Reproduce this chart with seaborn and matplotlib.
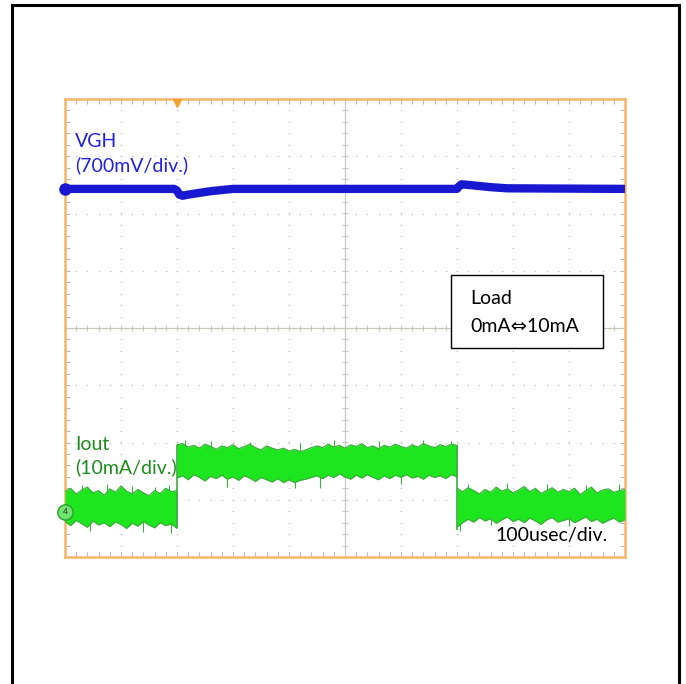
import numpy as np
import pandas as pd
import matplotlib
matplotlib.use("Agg")
import matplotlib.pyplot as plt
import matplotlib.patches as patches
from matplotlib.ticker import MultipleLocator
import seaborn as sns

# =============================================================================
# DATOS (leidos de la captura del osciloscopio)
# eje x en usec (100usec/div), eje y en divisiones (-4..4)
# =============================================================================
vgh_t = [0, 195, 200, 204, 210, 220, 240, 260, 280, 300, 700, 703, 708, 720, 740, 760, 790, 1000]
vgh_v = [2.43, 2.43, 2.40, 2.33, 2.31, 2.33, 2.36, 2.39, 2.41, 2.43, 2.43, 2.47, 2.51, 2.50, 2.48, 2.46, 2.44, 2.43]

# Iout: envolvente superior / inferior de la banda de ruido
iout_t1 = list(range(0, 201, 10))
iout_up1 = [-2.86, -2.80, -2.90, -2.83, -2.78, -2.88, -2.84, -2.92, -2.81, -2.87, -2.76,
            -2.85, -2.90, -2.82, -2.88, -2.93, -2.84, -2.89, -2.80, -2.86, -2.84]
iout_lo1 = [-3.38, -3.45, -3.36, -3.42, -3.48, -3.37, -3.44, -3.40, -3.47, -3.39, -3.43,
            -3.50, -3.41, -3.46, -3.38, -3.44, -3.49, -3.40, -3.45, -3.42, -3.50]

iout_t2 = list(range(200, 701, 10))
iout_up2 = [-2.04, -2.02, -2.08, -2.05, -2.10, -2.03, -2.07, -2.12, -2.06, -2.09,
            -2.04, -2.11, -2.07, -2.03, -2.09, -2.13, -2.06, -2.10, -2.13, -2.10,
            -2.15, -2.12, -2.16, -2.13, -2.09, -2.06, -2.09, -2.03, -2.08, -2.05,
            -2.10, -2.04, -2.07, -2.02, -2.09, -2.06, -2.11, -2.05, -2.08, -2.03,
            -2.07, -2.10, -2.04, -2.08, -2.02, -2.06, -2.09, -2.04, -2.07, -2.03, -2.05]
iout_lo2 = [-2.62, -2.58, -2.65, -2.56, -2.61, -2.67, -2.59, -2.63, -2.57, -2.64,
            -2.60, -2.66, -2.58, -2.62, -2.68, -2.61, -2.65, -2.69, -2.63, -2.70,
            -2.65, -2.70, -2.66, -2.64, -2.61, -2.58, -2.63, -2.57, -2.61, -2.55,
            -2.60, -2.64, -2.57, -2.62, -2.56, -2.61, -2.65, -2.58, -2.63, -2.57,
            -2.61, -2.56, -2.62, -2.59, -2.64, -2.57, -2.61, -2.58, -2.63, -2.56, -2.60]

iout_t3 = list(range(700, 1001, 10))
iout_up3 = [-2.80, -2.86, -2.79, -2.84, -2.90, -2.82, -2.87, -2.78, -2.85, -2.81,
            -2.88, -2.83, -2.77, -2.86, -2.80, -2.89, -2.84, -2.79, -2.87, -2.82,
            -2.86, -2.80, -2.91, -2.84, -2.78, -2.88, -2.83, -2.81, -2.87, -2.84, -2.82]
iout_lo3 = [-3.48, -3.40, -3.34, -3.39, -3.31, -3.37, -3.33, -3.41, -3.35, -3.30,
            -3.38, -3.34, -3.40, -3.32, -3.37, -3.43, -3.35, -3.31, -3.39, -3.36,
            -3.33, -3.40, -3.35, -3.30, -3.38, -3.34, -3.41, -3.36, -3.32, -3.39, -3.35]

# picos aislados fuera de la banda (tiempo, nivel de la punta, nivel base)
spike_t = [30, 75, 120, 160, 185, 45, 140, 190,
           215, 260, 330, 420, 480, 560, 640, 690, 290, 410, 455, 600,
           720, 790, 860, 930, 990, 705, 760, 900]
spike_tip = [-2.74, -2.72, -2.76, -2.77, -2.74, -3.55, -3.56, -3.58,
             -1.96, -1.98, -1.99, -2.00, -1.96, -1.97, -1.95, -1.97, -2.78, -2.80, -2.79, -2.72,
             -2.72, -2.70, -2.73, -2.74, -2.72, -3.55, -3.44, -3.45]
spike_base = [-3.1, -3.1, -3.1, -3.1, -3.1, -3.2, -3.2, -3.2,
              -2.3, -2.3, -2.3, -2.3, -2.3, -2.3, -2.3, -2.3, -2.4, -2.4, -2.4, -2.4,
              -3.0, -3.0, -3.0, -3.0, -3.0, -3.2, -3.2, -3.2]

# flancos de la corriente de carga
step_t = [200, 700]
step_top = [-2.04, -2.05]
step_bot = [-3.50, -3.53]

vgh_level = 2.43
iout_level = -3.21
trigger_t = 200

# =============================================================================
# FIGURA
# =============================================================================
sns.set_theme(style="white")
plt.rcParams['font.family'] = ['Lato', 'DejaVu Sans']

fig = plt.figure(figsize=(6.86, 6.84), dpi=100)
ax = fig.add_axes([65 / 686, 1 - 557 / 684, 560 / 686, 458 / 684])
ax.set_xlim(0, 1000)
ax.set_ylim(-4, 4)

# marco exterior
fig.add_artist(patches.Rectangle((12 / 686, -0.05), (679 - 12) / 686, 1 - 5 / 684 + 0.05,
                                 transform=fig.transFigure, fill=False,
                                 edgecolor='black', linewidth=2.2))

# reticula punteada
grid_c = '#c4c4c4'
for xv in [100, 200, 300, 400, 600, 700, 800, 900]:
    ys = np.arange(-4, 4.01, 0.2)
    ax.scatter(np.full(len(ys), xv), ys, s=1.2, color=grid_c, linewidths=0, zorder=1)
for yv in [-3, -2, -1, 1, 2, 3]:
    xs = np.arange(0, 1001, 20)
    ax.scatter(xs, np.full(len(xs), yv), s=1.2, color=grid_c, linewidths=0, zorder=1)

# ejes centrales con marcas
cen_c = '#c8c8bc'
ax.axhline(0, color=cen_c, lw=0.9, zorder=1)
ax.axvline(500, color=cen_c, lw=0.9, zorder=1)
xs = np.arange(0, 1001, 20)
ax.scatter(xs, np.zeros(len(xs)), marker='|', s=18, color=cen_c, linewidths=0.8, zorder=1)
ys = np.arange(-4, 4.01, 0.2)
ax.scatter(np.full(len(ys), 500), ys, marker='_', s=18, color=cen_c, linewidths=0.8, zorder=1)

# Iout (banda de ruido)
green_fill = '#1ee61e'
green_edge = '#3aae3a'
ax.vlines(spike_t, spike_base, spike_tip, color=green_edge, lw=0.8, zorder=2)
for t, up, lo in [(iout_t1, iout_up1, iout_lo1),
                  (iout_t2, iout_up2, iout_lo2),
                  (iout_t3, iout_up3, iout_lo3)]:
    ax.fill_between(t, lo, up, color=green_fill, linewidth=0, zorder=3)
    sns.lineplot(x=t, y=up, color=green_edge, lw=0.9, estimator=None, ax=ax, zorder=3)
    sns.lineplot(x=t, y=lo, color=green_edge, lw=0.9, estimator=None, ax=ax, zorder=3)
ax.vlines(step_t, step_bot, step_top, color=green_edge, lw=1.2, zorder=3)

# VGH
sns.lineplot(x=vgh_t, y=vgh_v, color='#1818d0', lw=6, estimator=None, ax=ax, zorder=4)

# marcadores de canal y disparo
ax.plot(0, vgh_level, 'o', color='#1818d0', ms=8, clip_on=False, zorder=6)
ax.plot(0, iout_level, 'o', mfc='#6ee66e', mec='#2a9a2a', ms=11, clip_on=False, zorder=6)
ax.text(0, iout_level, '4', fontsize=6, ha='center', va='center', zorder=7)
ax.plot(trigger_t, 3.93, marker='v', color='#f5a030', ms=6, clip_on=False, zorder=6)

# textos
fs = 14
ax.text(18, 3.25, 'VGH', color='#2020e0', fontsize=fs, va='center', ha='left', zorder=8)
ax.text(18, 2.85, '(700mV/div.)', color='#2020e0', fontsize=fs, va='center', ha='left', zorder=8)
ax.text(18, -2.04, 'Iout', color='#1c8c1c', fontsize=fs, va='center', ha='left', zorder=8)
ax.text(18, -2.43, '(10mA/div.)', color='#1c8c1c', fontsize=fs, va='center', ha='left', zorder=8)
ax.text(768, -3.63, '100usec/div.', color='black', fontsize=fs, va='center', ha='left', zorder=8)

ax.add_patch(patches.Rectangle((689, -0.35), 272, 1.28, facecolor='white',
                               edgecolor='black', linewidth=1.0, zorder=5))
ax.text(723, 0.52, 'Load', color='black', fontsize=fs, va='center', ha='left', zorder=8)
ax.text(723, 0.02, '0mA\u21d410mA', color='black', fontsize=fs, va='center', ha='left', zorder=8)

# bordes y marcas del recuadro
for s in ax.spines.values():
    s.set_color('#f5b565')
    s.set_linewidth(1.8)
ax.xaxis.set_major_locator(MultipleLocator(100))
ax.xaxis.set_minor_locator(MultipleLocator(20))
ax.yaxis.set_major_locator(MultipleLocator(1))
ax.yaxis.set_minor_locator(MultipleLocator(0.2))
ax.tick_params(which='both', direction='in', length=3.5, width=0.6, color='#a8a8a8',
               top=True, right=True, bottom=True, left=True,
               labelbottom=False, labelleft=False)
ax.set_xlabel('')
ax.set_ylabel('')

fig.savefig('out.png', dpi=100)
